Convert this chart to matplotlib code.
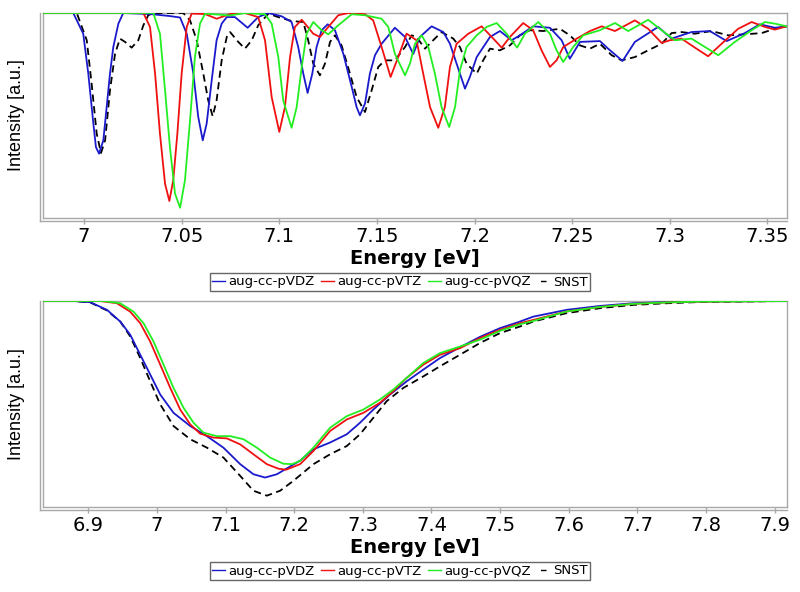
import matplotlib
matplotlib.use("Agg")
import matplotlib.pyplot as plt
from matplotlib.lines import Line2D
from matplotlib.transforms import ScaledTranslation

# ---------------- data (top panel) ----------------
top_dz_E = [6.979, 6.9945, 6.9996, 7.0022, 7.0048, 7.0061, 7.0077, 7.0099, 7.0116, 7.0133, 7.0150, 7.0176, 7.0201, 7.0338, 7.0440, 7.0492, 7.0526, 7.0560, 7.0585, 7.0608, 7.0628, 7.0654, 7.0679, 7.0705, 7.0731, 7.0773, 7.0838, 7.0892, 7.0944, 7.1012, 7.1063, 7.1097, 7.1123, 7.1145, 7.1169, 7.1191, 7.1217, 7.1248, 7.1285, 7.1328, 7.1371, 7.1396, 7.1413, 7.1439, 7.1464, 7.1490, 7.1524, 7.1592, 7.1644, 7.1686, 7.1720, 7.1780, 7.1840, 7.1874, 7.1908, 7.1951, 7.1976, 7.2011, 7.2079, 7.2130, 7.2190, 7.2232, 7.2300, 7.2386, 7.2446, 7.2488, 7.2540, 7.2642, 7.2684, 7.2758, 7.2821, 7.2940, 7.3009, 7.3111, 7.3205, 7.3291, 7.3384, 7.3461, 7.3538, 7.3598]
top_dz_I = [1.0, 1.0, 0.899, 0.704, 0.460, 0.346, 0.314, 0.379, 0.541, 0.704, 0.834, 0.948, 1.0, 0.995, 0.985, 0.978, 0.899, 0.704, 0.493, 0.379, 0.460, 0.672, 0.867, 0.948, 0.980, 0.980, 0.928, 0.980, 1.0, 0.984, 0.956, 0.834, 0.704, 0.610, 0.704, 0.834, 0.916, 0.945, 0.916, 0.801, 0.639, 0.541, 0.501, 0.558, 0.704, 0.794, 0.850, 0.928, 0.883, 0.800, 0.883, 0.935, 0.907, 0.850, 0.753, 0.631, 0.688, 0.785, 0.883, 0.912, 0.867, 0.891, 0.935, 0.928, 0.867, 0.777, 0.859, 0.863, 0.826, 0.766, 0.859, 0.932, 0.875, 0.907, 0.912, 0.863, 0.902, 0.945, 0.928, 0.935]

top_tz_E = [6.979, 7.0304, 7.0338, 7.0364, 7.0389, 7.0415, 7.0437, 7.0457, 7.0478, 7.0500, 7.0526, 7.0551, 7.0620, 7.0679, 7.0748, 7.0824, 7.0892, 7.0927, 7.0961, 7.1000, 7.1029, 7.1055, 7.1080, 7.1115, 7.1174, 7.1208, 7.1251, 7.1302, 7.1353, 7.1439, 7.1481, 7.1524, 7.1570, 7.1609, 7.1652, 7.1703, 7.1737, 7.1772, 7.1814, 7.1848, 7.1874, 7.1908, 7.1968, 7.2036, 7.2096, 7.2139, 7.2181, 7.2249, 7.2300, 7.2343, 7.2386, 7.2420, 7.2454, 7.2523, 7.2591, 7.2651, 7.2719, 7.2821, 7.2889, 7.2958, 7.3000, 7.3060, 7.3111, 7.3196, 7.3265, 7.3350, 7.3419, 7.3487, 7.3538, 7.3598]
top_tz_I = [1.0, 1.0, 0.932, 0.704, 0.411, 0.167, 0.083, 0.184, 0.411, 0.704, 0.932, 0.997, 0.995, 0.972, 0.995, 1.0, 0.980, 0.867, 0.590, 0.420, 0.541, 0.785, 0.932, 0.967, 0.899, 0.883, 0.932, 0.989, 1.0, 0.994, 0.964, 0.834, 0.688, 0.785, 0.899, 0.867, 0.704, 0.541, 0.440, 0.541, 0.737, 0.850, 0.899, 0.935, 0.875, 0.831, 0.883, 0.951, 0.916, 0.818, 0.737, 0.769, 0.834, 0.875, 0.912, 0.935, 0.912, 0.964, 0.923, 0.854, 0.867, 0.875, 0.842, 0.789, 0.850, 0.923, 0.956, 0.932, 0.919, 0.935]

top_qz_E = [6.979, 7.0355, 7.0389, 7.0415, 7.0440, 7.0466, 7.0492, 7.0517, 7.0543, 7.0568, 7.0594, 7.0620, 7.0748, 7.0824, 7.0927, 7.0961, 7.0995, 7.1020, 7.1063, 7.1089, 7.1115, 7.1140, 7.1174, 7.1217, 7.1251, 7.1302, 7.1371, 7.1439, 7.1524, 7.1558, 7.1592, 7.1644, 7.1669, 7.1695, 7.1729, 7.1763, 7.1797, 7.1831, 7.1870, 7.1900, 7.1925, 7.1959, 7.2011, 7.2062, 7.2113, 7.2164, 7.2218, 7.2258, 7.2326, 7.2386, 7.2420, 7.2454, 7.2505, 7.2556, 7.2642, 7.2719, 7.2787, 7.2889, 7.2958, 7.3026, 7.3111, 7.3180, 7.3248, 7.3333, 7.3419, 7.3487, 7.3538, 7.3598]
top_qz_I = [1.0, 1.0, 0.899, 0.623, 0.346, 0.119, 0.050, 0.184, 0.477, 0.785, 0.948, 0.997, 0.988, 1.0, 0.994, 0.948, 0.785, 0.574, 0.440, 0.541, 0.737, 0.899, 0.956, 0.916, 0.896, 0.940, 0.994, 0.989, 0.972, 0.932, 0.801, 0.696, 0.753, 0.850, 0.891, 0.834, 0.704, 0.541, 0.444, 0.541, 0.720, 0.834, 0.891, 0.932, 0.951, 0.899, 0.831, 0.899, 0.956, 0.899, 0.818, 0.761, 0.834, 0.891, 0.916, 0.951, 0.912, 0.967, 0.916, 0.867, 0.875, 0.834, 0.794, 0.859, 0.916, 0.956, 0.948, 0.935]

top_snst_E = [6.979, 6.9963, 7.0014, 7.0039, 7.0065, 7.0087, 7.0108, 7.0133, 7.0159, 7.0184, 7.0210, 7.0244, 7.0278, 7.0304, 7.0329, 7.0355, 7.0508, 7.0543, 7.0577, 7.0611, 7.0636, 7.0659, 7.0679, 7.0705, 7.0731, 7.0748, 7.0790, 7.0824, 7.0859, 7.0892, 7.0944, 7.0995, 7.1063, 7.1123, 7.1148, 7.1174, 7.1208, 7.1234, 7.1260, 7.1285, 7.1319, 7.1362, 7.1396, 7.1439, 7.1473, 7.1507, 7.1541, 7.1592, 7.1644, 7.1678, 7.1703, 7.1746, 7.1788, 7.1831, 7.1891, 7.1925, 7.1959, 7.2011, 7.2044, 7.2079, 7.2130, 7.2181, 7.2232, 7.2284, 7.2352, 7.2437, 7.2488, 7.2540, 7.2591, 7.2642, 7.2702, 7.2753, 7.2821, 7.2889, 7.2958, 7.3009, 7.3060, 7.3128, 7.3214, 7.3299, 7.3384, 7.3470, 7.3538, 7.3598]
top_snst_I = [1.0, 1.0, 0.867, 0.655, 0.411, 0.317, 0.379, 0.623, 0.801, 0.875, 0.859, 0.831, 0.867, 0.940, 0.989, 1.0, 1.0, 0.964, 0.867, 0.704, 0.574, 0.496, 0.574, 0.769, 0.883, 0.907, 0.859, 0.826, 0.867, 0.940, 0.997, 0.980, 0.961, 0.956, 0.867, 0.753, 0.696, 0.753, 0.859, 0.891, 0.842, 0.704, 0.590, 0.517, 0.623, 0.737, 0.769, 0.769, 0.834, 0.891, 0.883, 0.826, 0.867, 0.907, 0.875, 0.834, 0.753, 0.704, 0.769, 0.826, 0.818, 0.842, 0.891, 0.916, 0.912, 0.923, 0.891, 0.842, 0.826, 0.850, 0.794, 0.769, 0.785, 0.818, 0.850, 0.902, 0.907, 0.899, 0.912, 0.891, 0.896, 0.902, 0.923, 0.935]

# ---------------- data (bottom panel) ----------------
bot_dz_E = [6.8345, 6.8786, 6.9029, 6.9272, 6.9466, 6.9611, 6.9757, 6.9902, 7.0048, 7.0242, 7.0485, 7.0728, 7.0969, 7.1213, 7.1406, 7.1576, 7.1747, 7.1916, 7.2086, 7.2280, 7.2523, 7.2766, 7.2959, 7.3153, 7.3396, 7.3639, 7.3881, 7.4124, 7.4459, 7.4706, 7.4997, 7.5288, 7.5482, 7.5968, 7.6453, 7.6937, 7.7423, 7.7908, 7.918]
bot_dz_I = [1.0, 1.0, 0.994, 0.957, 0.900, 0.836, 0.739, 0.643, 0.546, 0.457, 0.393, 0.344, 0.288, 0.208, 0.159, 0.143, 0.159, 0.192, 0.225, 0.280, 0.313, 0.353, 0.409, 0.473, 0.546, 0.610, 0.667, 0.723, 0.783, 0.826, 0.868, 0.900, 0.924, 0.957, 0.976, 0.989, 0.995, 0.998, 1.0]

bot_tz_E = [6.8345, 6.9175, 6.9418, 6.9611, 6.9757, 6.9902, 7.0048, 7.0194, 7.0339, 7.0485, 7.0630, 7.0824, 7.1019, 7.1213, 7.1406, 7.1601, 7.1770, 7.1882, 7.2086, 7.2280, 7.2523, 7.2766, 7.3007, 7.3250, 7.3444, 7.3639, 7.3881, 7.4124, 7.4415, 7.4706, 7.4997, 7.5288, 7.5482, 7.5968, 7.6453, 7.6937, 7.7423, 7.7908, 7.918]
bot_tz_I = [1.0, 1.0, 0.989, 0.948, 0.892, 0.803, 0.691, 0.578, 0.473, 0.401, 0.356, 0.337, 0.333, 0.304, 0.256, 0.208, 0.186, 0.181, 0.208, 0.272, 0.369, 0.425, 0.457, 0.506, 0.562, 0.627, 0.691, 0.739, 0.771, 0.820, 0.860, 0.892, 0.908, 0.949, 0.971, 0.986, 0.993, 0.997, 1.0]

bot_qz_E = [6.8345, 6.9223, 6.9466, 6.9659, 6.9805, 6.9951, 7.0096, 7.0242, 7.0387, 7.0533, 7.0678, 7.0873, 7.1067, 7.1261, 7.1456, 7.1649, 7.1843, 7.1970, 7.2086, 7.2280, 7.2523, 7.2766, 7.3007, 7.3250, 7.3444, 7.3639, 7.3881, 7.4124, 7.4415, 7.4706, 7.4997, 7.5288, 7.5482, 7.5968, 7.6453, 7.6937, 7.7423, 7.7908, 7.918]
bot_qz_I = [1.0, 1.0, 0.989, 0.948, 0.892, 0.803, 0.691, 0.578, 0.482, 0.409, 0.361, 0.344, 0.344, 0.329, 0.288, 0.240, 0.210, 0.208, 0.224, 0.288, 0.385, 0.441, 0.473, 0.522, 0.570, 0.627, 0.699, 0.747, 0.779, 0.812, 0.855, 0.887, 0.903, 0.949, 0.971, 0.986, 0.993, 0.997, 1.0]

bot_snst_E = [6.8345, 6.8786, 6.9029, 6.9272, 6.9466, 6.9611, 6.9757, 6.9902, 7.0048, 7.0242, 7.0485, 7.0728, 7.0969, 7.1213, 7.1406, 7.1601, 7.1795, 7.1988, 7.2280, 7.2523, 7.2766, 7.2959, 7.3153, 7.3348, 7.3590, 7.3881, 7.4124, 7.4415, 7.4706, 7.4997, 7.5288, 7.5482, 7.5968, 7.6453, 7.6937, 7.7423, 7.7908, 7.8389, 7.918]
bot_snst_I = [1.0, 1.0, 0.993, 0.954, 0.900, 0.828, 0.723, 0.610, 0.498, 0.393, 0.329, 0.288, 0.240, 0.151, 0.079, 0.055, 0.079, 0.127, 0.208, 0.256, 0.296, 0.353, 0.433, 0.514, 0.578, 0.634, 0.683, 0.739, 0.796, 0.844, 0.876, 0.900, 0.941, 0.965, 0.981, 0.989, 0.995, 0.997, 1.0]

labels = ["aug-cc-pVDZ", "aug-cc-pVTZ", "aug-cc-pVQZ", "SNST"]
top_ticks = [7.0, 7.05, 7.1, 7.15, 7.2, 7.25, 7.3, 7.35]
top_ticklabels = ["7", "7.05", "7.1", "7.15", "7.2", "7.25", "7.3", "7.35"]
bot_ticks = [6.9, 7.0, 7.1, 7.2, 7.3, 7.4, 7.5, 7.6, 7.7, 7.8, 7.9]
bot_ticklabels = ["6.9", "7", "7.1", "7.2", "7.3", "7.4", "7.5", "7.6", "7.7", "7.8", "7.9"]

# ---------------- styling ----------------
C_BLUE = "#1a1acc"
C_RED = "#f01010"
C_GREEN = "#22ee22"
C_BLACK = "#000000"
FRAME = "#a8a8a8"
LW = 1.3

plt.rcParams["font.family"] = ["DejaVu Sans"]

fig = plt.figure(figsize=(8.0, 5.92), dpi=100)
fig.patch.set_facecolor("white")

ax_top = fig.add_axes([43 / 800, 1 - 218 / 592, 744 / 800, 205 / 592])
ax_bot = fig.add_axes([43 / 800, 1 - 507 / 592, 744 / 800, 206 / 592])


def style_axes(ax, xlim, ticks, ticklabels):
    ax.set_xlim(*xlim)
    ax.set_ylim(0.0, 1.0)
    ax.set_yticks([])
    ax.set_xticks(ticks)
    ax.set_xticklabels(ticklabels)
    for s in ax.spines.values():
        s.set_color(FRAME)
        s.set_linewidth(1.0)
    ax.tick_params(axis="x", direction="out", length=4, width=1, color=FRAME,
                   pad=2.5, labelsize=14, labelcolor="black")
    ax.set_xlabel("Energy [eV]", fontsize=14, fontweight="bold", labelpad=2)
    ax.set_ylabel("Intensity [a.u.]", fontsize=13, family=["Liberation Sans", "DejaVu Sans"],
                  labelpad=6)
    # second (outer) axis lines, slightly offset from the frame
    tl = ax.transAxes + ScaledTranslation(-3 / 100, 0, fig.dpi_scale_trans)
    tb = ax.transAxes + ScaledTranslation(0, -3 / 100, fig.dpi_scale_trans)
    ax.add_line(Line2D([0, 0], [-0.015, 1.0], transform=tl, color=FRAME, lw=1.0, clip_on=False))
    ax.add_line(Line2D([-0.004, 1.0], [0, 0], transform=tb, color=FRAME, lw=1.0, clip_on=False))


def draw(ax, data):
    (dzE, dzI), (tzE, tzI), (qzE, qzI), (sE, sI) = data
    ax.plot(sE, sI, color=C_BLACK, lw=LW, dashes=(4, 2.5), zorder=3)
    ax.plot(dzE, dzI, color=C_BLUE, lw=LW, zorder=4)
    ax.plot(tzE, tzI, color=C_RED, lw=LW, zorder=5)
    ax.plot(qzE, qzI, color=C_GREEN, lw=LW, zorder=6)


draw(ax_top, [(top_dz_E, top_dz_I), (top_tz_E, top_tz_I), (top_qz_E, top_qz_I), (top_snst_E, top_snst_I)])
draw(ax_bot, [(bot_dz_E, bot_dz_I), (bot_tz_E, bot_tz_I), (bot_qz_E, bot_qz_I), (bot_snst_E, bot_snst_I)])

style_axes(ax_top, (6.979, 7.36), top_ticks, top_ticklabels)
style_axes(ax_bot, (6.834, 7.918), bot_ticks, bot_ticklabels)

for ax in (ax_top, ax_bot):
    ax.yaxis.set_label_coords(-0.024, 0.5)


def make_legend(y):
    handles = [
        Line2D([], [], color=C_BLUE, lw=1.0),
        Line2D([], [], color=C_RED, lw=1.0),
        Line2D([], [], color=C_GREEN, lw=1.0),
        Line2D([], [], color=C_BLACK, lw=1.0, linestyle=(-2.5, (4.0, 20))),
    ]
    leg = fig.legend(handles, labels, loc="center", bbox_to_anchor=(0.5, y), ncol=4,
                     fontsize=9.5, frameon=True, fancybox=False, shadow=False,
                     handlelength=1.0, handletextpad=0.25, columnspacing=0.45,
                     borderpad=0.18, borderaxespad=0)
    fr = leg.get_frame()
    fr.set_edgecolor("#404040")
    fr.set_linewidth(1.0)
    return leg


make_legend(1 - 282 / 592)
make_legend(1 - 571 / 592)

fig.savefig("out.png", dpi=100, facecolor="white")
